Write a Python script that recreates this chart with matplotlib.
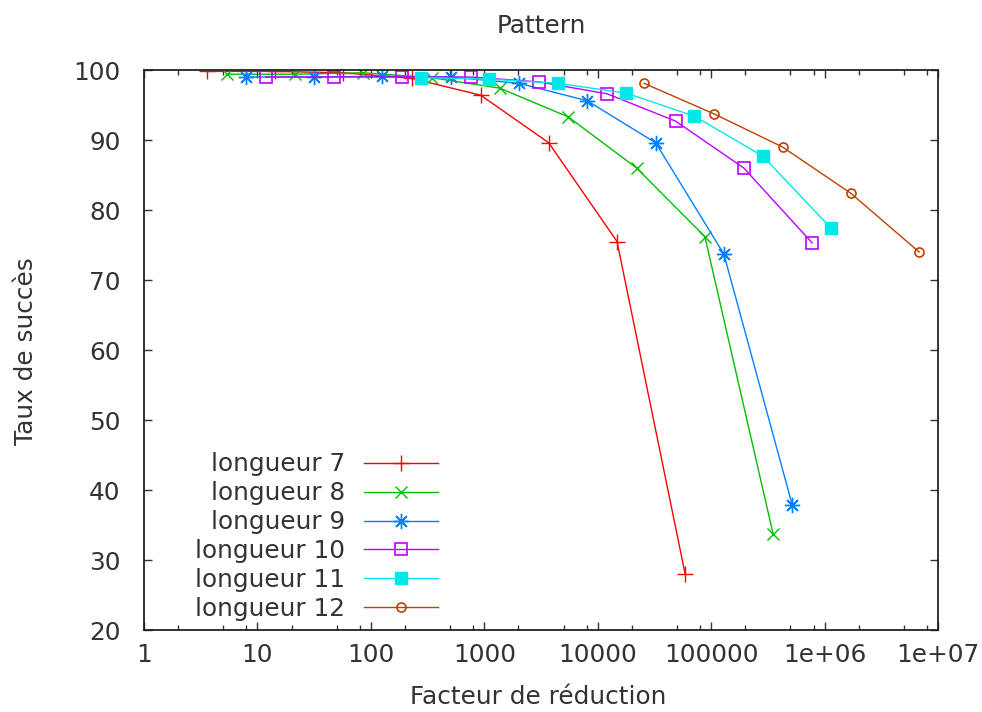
import matplotlib
matplotlib.use("Agg")
import matplotlib.pyplot as plt
from matplotlib.ticker import LogLocator, FixedLocator, NullFormatter, FixedFormatter

# ---- data ----
x7 = [3.6, 14.3, 57, 230, 930, 3700, 14800, 59000]
y7 = [99.8, 99.8, 99.6, 98.8, 96.4, 89.6, 75.5, 28.0]

x8 = [5.4, 21.5, 86, 344, 1375, 5500, 22000, 88000, 352000]
y8 = [99.4, 99.4, 99.6, 98.9, 97.4, 93.3, 86.0, 76.2, 33.7]

x9 = [7.9, 31.6, 126, 506, 2020, 8100, 32400, 129500, 518000]
y9 = [99.0, 99.0, 99.1, 99.0, 98.1, 95.6, 89.6, 73.7, 37.9]

x10 = [11.9, 47.4, 190, 759, 3030, 12100, 48600, 194000, 777000]
y10 = [99.0, 99.0, 99.0, 99.0, 98.3, 96.6, 92.7, 86.0, 75.3]

x11 = [278, 1110, 4450, 17800, 71300, 285000, 1140000]
y11 = [98.9, 98.7, 98.1, 96.7, 93.4, 87.7, 77.4]

x12 = [25600, 107000, 426000, 1700000, 6820000]
y12 = [98.1, 93.7, 89.0, 82.4, 74.0]

labels = ["longueur 7", "longueur 8", "longueur 9",
          "longueur 10", "longueur 11", "longueur 12"]
xticks = [1, 10, 100, 1000, 10000, 100000, 1e6, 1e7]
xticklabels = ["1", "10", "100", "1000", "10000", "100000", "1e+06", "1e+07"]
yticks = [20, 30, 40, 50, 60, 70, 80, 90, 100]

plt.rcParams['font.family'] = ['DejaVu Sans']
FS = 17.8
TC = '#333333'

fig = plt.figure(figsize=(9.82, 7.12), dpi=100)
ax = fig.add_axes([144/982, 1 - 630/712, (938-144)/982, (630-70)/712])

series = [
    (x7, y7, '#ff0000', dict(marker='+', markersize=11, mew=1.0)),
    (x8, y8, '#00c000', dict(marker='x', markersize=8, mew=1.0)),
    (x9, y9, '#0080ff', dict(marker=(8, 2, 0), markersize=11, mew=1.0)),
    (x10, y10, '#c000ff', dict(marker='s', markersize=9, mfc='none', mew=1.2)),
    (x11, y11, '#00e8e8', dict(marker='s', markersize=9, mew=1.0)),
    (x12, y12, '#c04000', dict(marker='o', markersize=6.5, mfc='none', mew=1.2)),
]
for (xs, ys, c, mk), lab in zip(series, labels):
    ax.plot(xs, ys, color=c, lw=1.0, label=lab, **mk)

ax.set_xscale('log')
ax.set_xlim(1, 1e7)
ax.set_ylim(20, 100)
ax.xaxis.set_major_locator(FixedLocator(xticks))
ax.xaxis.set_major_formatter(FixedFormatter(xticklabels))
ax.xaxis.set_minor_locator(LogLocator(base=10, subs=[2, 5, 8], numticks=20))
ax.xaxis.set_minor_formatter(NullFormatter())
ax.set_yticks(yticks)

ax.tick_params(which='both', direction='in', top=True, right=True,
               labelsize=FS, colors=TC, width=1.0)
ax.tick_params(which='major', length=6)
ax.tick_params(which='minor', length=3.5)
ax.tick_params(axis='x', pad=9.5)
ax.tick_params(axis='y', pad=17)
for sp in ax.spines.values():
    sp.set_linewidth(1.3)
    sp.set_color('#222222')

ax.set_title("Pattern", fontsize=FS, pad=26.5, color=TC)
ax.set_xlabel("Facteur de réduction", fontsize=FS, color=TC)
ax.set_ylabel("Taux de succès", fontsize=FS, color=TC)
ax.xaxis.set_label_coords(0.497, -0.098)
ax.yaxis.set_label_coords(-0.134, 0.498)

leg = ax.legend(loc='lower right', bbox_to_anchor=(0.370, 0.016),
                frameon=False, markerfirst=False, fontsize=FS,
                handlelength=3.0, handletextpad=0.75, labelspacing=0.2,
                borderpad=0, borderaxespad=0)
for t in leg.get_texts():
    t.set_color(TC)

fig.savefig("out.png", dpi=100)
